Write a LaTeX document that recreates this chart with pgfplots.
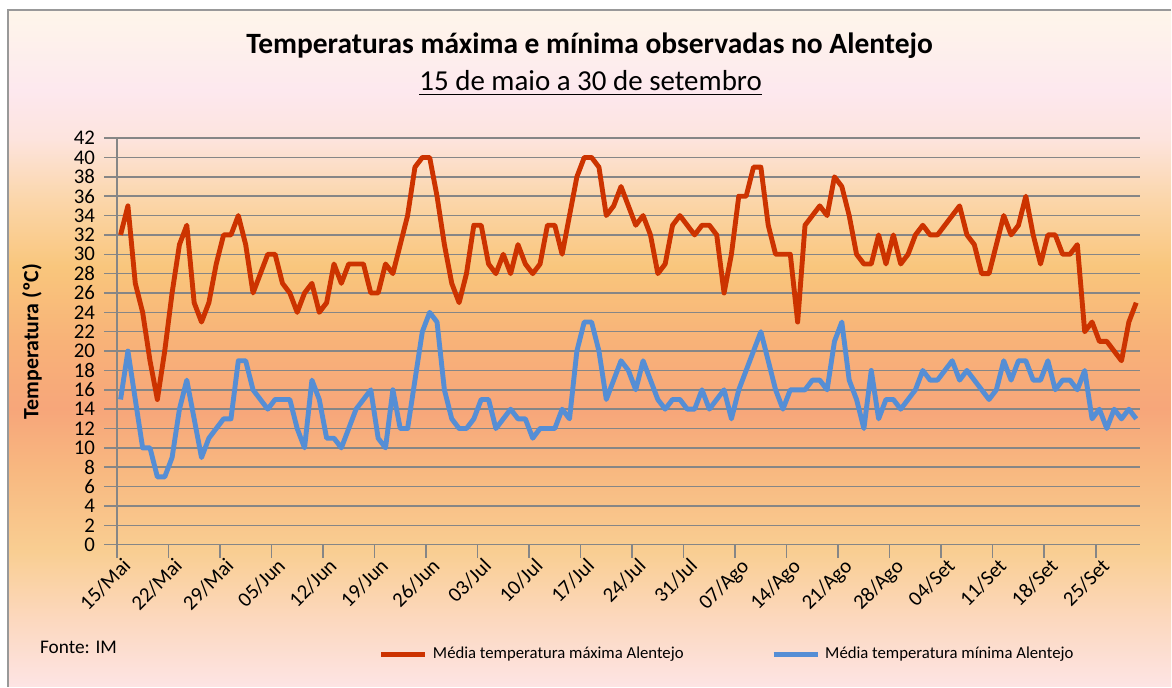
\documentclass[border=0pt]{standalone}
\usepackage{pgfplots}
\pgfplotsset{compat=1.18}
\usepackage{pgfplotstable}
\usepackage{fontspec}
\setmainfont{Carlito}
\definecolor{maxred}{RGB}{204,51,0}
\definecolor{minblue}{RGB}{85,142,213}
\definecolor{gridgray}{RGB}{134,134,134}
\definecolor{bga}{RGB}{253,228,228}
\definecolor{bgb}{RGB}{252,216,190}
\definecolor{bgc}{RGB}{249,206,146}
\definecolor{bgd}{RGB}{248,184,128}
\definecolor{bge}{RGB}{247,166,122}
\definecolor{bgf}{RGB}{248,178,120}
\definecolor{bgg}{RGB}{249,198,124}
\definecolor{bgh}{RGB}{251,214,170}
\definecolor{bgi}{RGB}{253,228,222}
\definecolor{bgj}{RGB}{253,232,238}
\definecolor{bgk}{RGB}{254,246,234}

% tikz maps the path onto 25bp..75bp of the shading
\pgfdeclareverticalshading{bgshade}{100bp}{%
  color(0bp)=(bga); color(25bp)=(bga); color(30bp)=(bgb); color(35bp)=(bgc);
  color(41bp)=(bgd); color(45.5bp)=(bge); color(50.5bp)=(bgf);
  color(56bp)=(bgg); color(61bp)=(bgh); color(65.5bp)=(bgi);
  color(69bp)=(bgj); color(75bp)=(bgk); color(100bp)=(bgk)}

% dia (0 = 15 de maio), maxima, minima
\pgfplotstableread{
d mx mn
0 32 15
1 35 20
2 27 15
3 24 10
4 19 10
5 15 7
6 20 7
7 26 9
8 31 14
9 33 17
10 25 13
11 23 9
12 25 11
13 29 12
14 32 13
15 32 13
16 34 19
17 31 19
18 26 16
19 28 15
20 30 14
21 30 15
22 27 15
23 26 15
24 24 12
25 26 10
26 27 17
27 24 15
28 25 11
29 29 11
30 27 10
31 29 12
32 29 14
33 29 15
34 26 16
35 26 11
36 29 10
37 28 16
38 31 12
39 34 12
40 39 17
41 40 22
42 40 24
43 36 23
44 31 16
45 27 13
46 25 12
47 28 12
48 33 13
49 33 15
50 29 15
51 28 12
52 30 13
53 28 14
54 31 13
55 29 13
56 28 11
57 29 12
58 33 12
59 33 12
60 30 14
61 34 13
62 38 20
63 40 23
64 40 23
65 39 20
66 34 15
67 35 17
68 37 19
69 35 18
70 33 16
71 34 19
72 32 17
73 28 15
74 29 14
75 33 15
76 34 15
77 33 14
78 32 14
79 33 16
80 33 14
81 32 15
82 26 16
83 30 13
84 36 16
85 36 18
86 39 20
87 39 22
88 33 19
89 30 16
90 30 14
91 30 16
92 23 16
93 33 16
94 34 17
95 35 17
96 34 16
97 38 21
98 37 23
99 34 17
100 30 15
101 29 12
102 29 18
103 32 13
104 29 15
105 32 15
106 29 14
107 30 15
108 32 16
109 33 18
110 32 17
111 32 17
112 33 18
113 34 19
114 35 17
115 32 18
116 31 17
117 28 16
118 28 15
119 31 16
120 34 19
121 32 17
122 33 19
123 36 19
124 32 17
125 29 17
126 32 19
127 32 16
128 30 17
129 30 17
130 31 16
131 22 18
132 23 13
133 21 14
134 21 12
135 20 14
136 19 13
137 23 14
138 25 13
}\temps

\begin{document}
\begin{tikzpicture}
% fundo e moldura (unidades: pixels da referencia)
\begin{scope}[x=0.013652cm,y=0.013652cm]
\fill[white] (0,0) rectangle (1172,687);
\shade[shading=bgshade] (8,0) rectangle (1172,677);
\draw[gray!80, line width=0.6pt] (8,0) -- (8,677) -- (1172,677);
\node[font=\bfseries\fontsize{11.45}{13}\selectfont] at (590,641) {Temperaturas máxima e mínima observadas no Alentejo};
\node[font=\fontsize{11.25}{13}\selectfont] at (591,604) {\underline{15 de maio a 30 de setembro}};
\node[anchor=west, font=\fontsize{7.5}{9}\selectfont] at (31,39) {Fonte: IM};
\end{scope}

\begin{axis}[
    at={(1.5973cm,1.9386cm)}, anchor=south west,
    scale only axis,
    width=13.98cm, height=5.556cm,
    xmin=-0.5, xmax=138.5,
    ymin=0, ymax=42,
    ytick={0,2,...,42},
    xtick={-0.5,6.5,...,132.5},
    xticklabels={15/Mai,22/Mai,29/Mai,05/Jun,12/Jun,19/Jun,26/Jun,03/Jul,10/Jul,17/Jul,24/Jul,31/Jul,07/Ago,14/Ago,21/Ago,28/Ago,04/Set,11/Set,18/Set,25/Set},
    axis lines*=left,
    axis line style={gridgray, line width=0.6pt},
    ymajorgrids=true,
    grid style={gridgray, line width=0.6pt},
    tick align=outside,
    major tick length=5pt,
    tick style={gridgray, line width=0.6pt},
    /pgf/number format/assume math mode=true,
    tick label style={font=\fontsize{8.1}{9}\selectfont},
    x tick label style={rotate=45, anchor=north east, inner sep=1pt, xshift=0.09cm},
    ylabel={Temperatura (ºC)},
    ylabel style={font=\bfseries\fontsize{8.5}{10}\selectfont, at={(axis description cs:-0.083,0.5)}, anchor=center},
    legend columns=2,
    legend style={at={(0.598,-0.27)}, anchor=center, draw=none, fill=none,
        font=\fontsize{6.5}{8}\selectfont,
        /tikz/every even column/.append style={column sep=32pt}},
    legend image code/.code={\draw[#1, line width=2pt] (0cm,0cm) -- (0.6cm,0cm);},
]
\addplot[maxred, line width=1.9pt, line join=round] table[x=d, y=mx] {\temps};
\addplot[minblue, line width=1.9pt, line join=round] table[x=d, y=mn] {\temps};
\legend{Média temperatura máxima Alentejo, Média temperatura mínima Alentejo}
\end{axis}
\end{tikzpicture}
\end{document}
